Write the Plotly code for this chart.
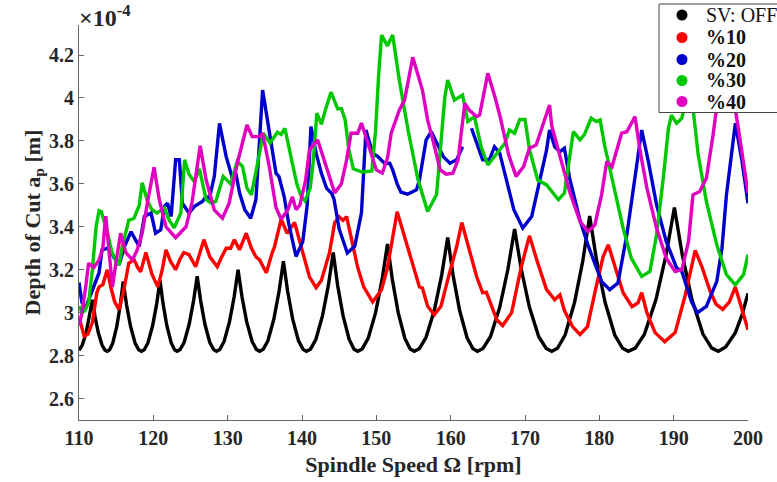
import plotly.graph_objects as go

# ---------------- data (depth of cut in units of 1e-4 m) ----------------
x_ticks = [110, 120, 130, 140, 150, 160, 170, 180, 190, 200]
y_ticks = [2.6, 2.8, 3.0, 3.2, 3.4, 3.6, 3.8, 4.0, 4.2]
y_tick_labels = ["2.6", "2.8", "3", "3.2", "3.4", "3.6", "3.8", "4", "4.2"]

series_names = ["SV: OFF", "%10", "%20", "%30", "%40"]

sv_off = [
    (110.0, 2.825), (110.44, 2.849), (110.96, 2.906), (111.42, 2.981), (111.8, 3.06),
    (112.16, 2.981), (112.6, 2.906), (113.1, 2.849), (113.5, 2.825), (113.8, 2.82),
    (114.12, 2.827), (114.55, 2.859), (115.09, 2.937), (115.56, 3.038), (115.95, 3.145),
    (116.39, 3.038), (116.93, 2.937), (117.54, 2.859), (118.03, 2.827), (118.4, 2.82),
    (118.78, 2.827), (119.28, 2.86), (119.9, 2.939), (120.45, 3.041), (120.9, 3.15),
    (121.31, 3.041), (121.82, 2.939), (122.4, 2.86), (122.86, 2.827), (123.2, 2.82),
    (123.6, 2.828), (124.15, 2.862), (124.82, 2.946), (125.41, 3.055), (125.9, 3.17),
    (126.37, 3.055), (126.94, 2.946), (127.59, 2.862), (128.11, 2.828), (128.5, 2.82),
    (128.94, 2.828), (129.52, 2.866), (130.24, 2.957), (130.88, 3.075), (131.4, 3.20),
    (131.92, 3.075), (132.56, 2.957), (133.29, 2.866), (133.87, 2.828), (134.3, 2.82),
    (134.78, 2.829), (135.42, 2.87), (136.22, 2.971), (136.92, 3.101), (137.5, 3.24),
    (138.06, 3.101), (138.74, 2.971), (139.52, 2.87), (140.14, 2.829), (140.6, 2.82),
    (141.14, 2.83), (141.86, 2.875), (142.76, 2.986), (143.55, 3.128), (144.2, 3.28),
    (144.79, 3.128), (145.52, 2.986), (146.35, 2.875), (147.0, 2.83), (147.5, 2.82),
    (148.1, 2.831), (148.9, 2.88), (149.9, 3.0), (150.78, 3.155), (151.5, 3.32),
    (152.15, 3.155), (152.94, 3.0), (153.84, 2.88), (154.56, 2.831), (155.1, 2.82),
    (155.78, 2.832), (156.68, 2.884), (157.8, 3.011), (158.79, 3.175), (159.6, 3.35),
    (160.32, 3.175), (161.2, 3.011), (162.2, 2.884), (163.0, 2.832), (163.6, 2.82),
    (164.35, 2.833), (165.35, 2.888), (166.6, 3.025), (167.7, 3.202), (168.6, 3.39),
    (169.5, 3.202), (170.6, 3.025), (171.85, 2.888), (172.85, 2.833), (173.6, 2.82),
    (174.37, 2.834), (175.39, 2.896), (176.66, 3.047), (177.78, 3.242), (178.7, 3.45),
    (179.64, 3.242), (180.78, 3.047), (182.08, 2.896), (183.12, 2.834), (183.9, 2.82),
    (184.83, 2.835), (186.07, 2.9), (187.62, 3.061), (188.98, 3.269), (190.1, 3.49),
    (191.16, 3.269), (192.46, 3.061), (193.94, 2.9), (195.12, 2.835), (196.0, 2.82),
    (197.0, 2.84), (198.3, 2.907), (199.2, 2.99), (200.0, 3.09),
]

sv_10 = [
    (110.0, 2.98), (110.7, 2.89), (111.2, 2.9), (111.8, 2.954), (112.4, 3.093), (112.7, 3.12),
    (113.2, 3.13), (113.8, 3.20), (114.3, 3.116), (114.8, 3.05), (115.4, 3.014), (116.0, 3.10),
    (116.7, 3.23), (117.4, 3.247), (117.9, 3.21), (118.3, 3.19), (119.0, 3.28), (119.8, 3.18),
    (120.6, 3.12), (121.2, 3.2), (121.7, 3.293), (122.3, 3.24), (123.0, 3.2), (123.6, 3.25),
    (124.1, 3.28), (124.8, 3.27), (125.7, 3.214), (126.8, 3.34), (127.6, 3.26), (128.6, 3.214),
    (129.2, 3.26), (129.8, 3.30), (130.4, 3.30), (130.9, 3.34), (131.6, 3.293), (132.5, 3.37),
    (133.2, 3.30), (133.8, 3.26), (134.3, 3.246), (135.2, 3.186), (136.0, 3.28), (136.3, 3.307),
    (137.2, 3.435), (138.0, 3.37), (139.0, 3.42), (139.9, 3.307), (141.0, 3.167), (141.9, 3.116),
    (142.6, 3.15), (143.7, 3.279), (144.4, 3.42), (145.0, 3.447), (145.5, 3.43), (146.0, 3.447),
    (146.6, 3.35), (147.5, 3.21), (148.3, 3.12), (149.5, 3.05), (150.7, 3.107), (151.5, 3.21),
    (152.8, 3.47), (154.2, 3.307), (155.1, 3.19), (155.8, 3.12), (156.2, 3.115), (156.9, 3.03),
    (157.8, 2.99), (158.7, 3.03), (159.6, 3.153), (160.8, 3.307), (161.5, 3.42), (162.4, 3.307),
    (163.5, 3.167), (164.3, 3.093), (164.8, 3.095), (165.2, 3.06), (166.2, 2.967), (167.0, 2.94),
    (168.2, 3.0), (169.5, 3.214), (170.6, 3.358), (171.7, 3.233), (172.9, 3.107), (174.0, 3.06),
    (174.7, 3.083), (175.3, 3.01), (176.4, 2.935), (177.4, 2.898), (178.4, 2.935), (179.4, 3.093),
    (180.5, 3.26), (181.2, 3.316), (182.1, 3.214), (183.2, 3.093), (184.4, 3.028), (185.2, 3.046),
    (185.7, 3.093), (186.4, 3.0), (187.5, 2.907), (188.8, 2.865), (190.2, 2.907), (191.5, 3.074),
    (192.9, 3.29), (193.8, 3.214), (194.9, 3.1), (195.7, 3.04), (196.6, 3.015), (197.5, 3.05),
    (198.3, 3.12), (199.2, 3.014), (200.0, 2.92),
]

sv_20 = [
    (110.0, 3.14), (110.4, 3.047), (110.9, 3.023), (111.8, 3.107), (112.7, 3.186), (113.1, 3.293),
    (113.8, 3.30), (114.2, 3.29), (114.7, 3.256), (115.4, 3.223), (116.1, 3.307), (117.0, 3.377),
    (117.6, 3.34), (118.1, 3.308), (118.8, 3.448), (119.7, 3.464), (120.3, 3.37), (121.0, 3.386),
    (121.5, 3.494), (121.9, 3.51), (122.4, 3.448), (123.0, 3.712), (123.5, 3.712), (123.9, 3.51),
    (124.8, 3.464), (125.5, 3.494), (126.6, 3.518), (127.1, 3.541), (127.5, 3.526), (128.2, 3.634),
    (128.9, 3.882), (129.8, 3.727), (130.7, 3.619), (131.1, 3.65), (131.6, 3.557), (132.3, 3.48),
    (133.1, 3.44), (133.8, 3.526), (134.7, 4.037), (135.6, 3.836), (136.5, 3.65), (136.9, 3.634),
    (137.6, 3.541), (138.2, 3.417), (139.2, 3.262), (140.1, 3.33), (140.7, 3.5), (141.2, 3.867),
    (141.9, 3.743), (142.6, 3.65), (143.3, 3.58), (144.0, 3.555), (144.3, 3.53), (145.0, 3.39),
    (146.1, 3.278), (147.1, 3.31), (148.0, 3.465), (148.6, 3.851), (149.5, 3.743), (150.2, 3.727),
    (151.1, 3.696), (151.8, 3.696), (152.2, 3.665), (152.8, 3.6), (153.3, 3.562), (154.2, 3.552),
    (155.4, 3.572), (155.8, 3.619), (156.7, 3.805), (157.4, 3.843), (158.1, 3.79), (159.0, 3.727),
    (159.9, 3.696), (160.8, 3.712), (161.6, 3.773),
    (None, None),
    (162.8, 3.859), (163.7, 3.773), (164.3, 3.712), (165.2, 3.712), (165.9, 3.773), (166.6, 3.743),
    (167.3, 3.65), (168.5, 3.48), (169.7, 3.394), (170.9, 3.448), (172.0, 3.619), (172.9, 3.758),
    (173.3, 3.851), (174.0, 3.773), (174.7, 3.75), (175.3, 3.766), (176.0, 3.627), (177.4, 3.43),
    (178.5, 3.312), (179.3, 3.235), (180.3, 3.146), (181.4, 3.107), (182.5, 3.138), (183.7, 3.363),
    (184.8, 3.626), (185.7, 3.851), (186.6, 3.704), (187.7, 3.502), (189.0, 3.332), (190.4, 3.208),
    (191.1, 3.192), (191.7, 3.13), (192.4, 3.05), (193.2, 3.0), (194.4, 3.029), (195.8, 3.146),
    (196.5, 3.3), (197.1, 3.549), (198.3, 3.882), (199.2, 3.704), (200.0, 3.51),
]

sv_30 = [
    (110.0, 3.03), (110.4, 3.0), (110.8, 3.01), (111.3, 3.047), (111.8, 3.2), (112.3, 3.4),
    (112.7, 3.475), (113.0, 3.47), (113.8, 3.377), (114.4, 3.284), (115.0, 3.24), (115.4, 3.223),
    (115.8, 3.307), (116.7, 3.43), (117.4, 3.44), (118.1, 3.5), (118.5, 3.605), (119.2, 3.52),
    (119.8, 3.48), (120.5, 3.464), (121.5, 3.488), (122.1, 3.433), (122.8, 3.395), (123.7, 3.464),
    (124.2, 3.712), (124.8, 3.645), (125.5, 3.611), (126.2, 3.67), (127.1, 3.526), (127.8, 3.51),
    (128.4, 3.518), (129.4, 3.634), (130.4, 3.6), (131.3, 3.705), (132.0, 3.68), (132.6, 3.58),
    (133.2, 3.549), (134.3, 3.743), (134.8, 3.836), (135.7, 3.79), (136.7, 3.84), (137.2, 3.83),
    (137.7, 3.859), (138.6, 3.712), (139.3, 3.6), (139.9, 3.541), (140.4, 3.52), (141.1, 3.58),
    (141.5, 3.7), (142.0, 3.929), (142.6, 3.878), (143.2, 3.95), (143.9, 4.027), (144.8, 3.95),
    (145.3, 3.95), (145.8, 3.9), (146.3, 3.76), (146.9, 3.67), (148.1, 3.655), (149.4, 3.66),
    (149.9, 3.85), (150.3, 4.1), (150.7, 4.293), (151.5, 4.243), (152.2, 4.293), (153.1, 4.08),
    (154.3, 3.845), (155.6, 3.62), (156.9, 3.471), (158.1, 3.55), (158.6, 3.75), (159.2, 4.0),
    (159.6, 4.084), (160.5, 3.99), (161.6, 4.014), (162.3, 3.89), (163.2, 3.913), (164.1, 3.773),
    (165.0, 3.688), (166.1, 3.735), (167.3, 3.789), (167.9, 3.851), (168.6, 3.836), (169.3, 3.9),
    (170.0, 3.9), (170.6, 3.76), (171.7, 3.619), (172.9, 3.595), (173.8, 3.557), (174.5, 3.526),
    (175.3, 3.557), (175.7, 3.66), (176.5, 3.843), (177.4, 3.805), (178.0, 3.83), (178.9, 3.906),
    (179.6, 3.89), (180.1, 3.898), (180.7, 3.781), (181.9, 3.595), (183.2, 3.394), (184.3, 3.254),
    (185.7, 3.169), (186.8, 3.192), (187.7, 3.363), (188.6, 3.626), (189.3, 3.859), (189.7, 3.92),
    (190.4, 3.882), (191.1, 3.906), (191.5, 3.967), (192.1, 4.04), (192.6, 3.952), (193.3, 3.735),
    (194.4, 3.518), (195.8, 3.316), (197.1, 3.177), (198.3, 3.13), (199.4, 3.177), (200.0, 3.27),
]

sv_40 = [
    (110.0, 2.94), (110.4, 3.0), (110.9, 3.12), (111.3, 3.23), (112.0, 3.21), (112.7, 3.246),
    (113.2, 3.3), (113.6, 3.45), (114.0, 3.3), (114.5, 3.12), (115.0, 3.24), (115.6, 3.37),
    (116.3, 3.28), (117.2, 3.246), (117.8, 3.29), (118.5, 3.37), (119.4, 3.55), (120.1, 3.677),
    (120.8, 3.526), (121.7, 3.4), (123.0, 3.349), (124.4, 3.4), (125.2, 3.512), (125.8, 3.65),
    (126.3, 3.777), (127.1, 3.619), (128.2, 3.479), (129.3, 3.44), (130.2, 3.51), (131.3, 3.696),
    (132.0, 3.8), (132.6, 3.874), (133.3, 3.82), (134.3, 3.82), (134.7, 3.836), (135.6, 3.68),
    (136.5, 3.49), (137.2, 3.435), (138.1, 3.48), (138.7, 3.54), (139.2, 3.48), (139.7, 3.5),
    (140.5, 3.62), (141.0, 3.758), (142.1, 3.805), (143.3, 3.68), (144.4, 3.557), (145.3, 3.6),
    (146.0, 3.712), (146.6, 3.836), (147.5, 3.836), (148.0, 3.883), (148.6, 3.82), (150.0, 3.665),
    (150.8, 3.65), (151.5, 3.72), (152.0, 3.836), (153.1, 3.944), (153.8, 3.99), (154.9, 4.19),
    (156.2, 4.037), (156.9, 3.898), (157.6, 3.805), (158.6, 3.665), (159.4, 3.645), (160.3, 3.65),
    (161.0, 3.712), (161.9, 3.975), (162.5, 3.944), (163.5, 3.913), (163.9, 3.921), (165.0, 4.115),
    (166.0, 4.0), (166.7, 3.906), (167.8, 3.735), (168.8, 3.635), (169.8, 3.68), (170.6, 3.766),
    (171.5, 3.781), (172.7, 3.913), (173.3, 3.967), (173.6, 3.87), (174.7, 3.735), (176.0, 3.564),
    (177.4, 3.425), (178.5, 3.378), (179.4, 3.409), (180.3, 3.549), (181.0, 3.704), (181.7, 3.68),
    (183.0, 3.836), (183.7, 3.843), (184.8, 3.913), (185.5, 3.75), (186.4, 3.58), (187.7, 3.394),
    (189.0, 3.254), (190.2, 3.192), (191.1, 3.2), (192.0, 3.332), (192.6, 3.549), (193.5, 3.564),
    (194.4, 3.626), (195.3, 3.828), (196.0, 4.014), (196.8, 4.2), (197.4, 4.08), (198.0, 4.014),
    (198.9, 3.813), (200.0, 3.557),
]

colors = ["#000000", "#ff0000", "#0000cc", "#00c800", "#e000c0"]
all_series = [sv_off, sv_10, sv_20, sv_30, sv_40]

SERIF = "Liberation Serif"
TXT = "#262626"

fig = go.Figure()

for name, pts, col in zip(series_names, all_series, colors):
    fig.add_trace(go.Scatter(
        x=[p[0] for p in pts], y=[p[1] for p in pts],
        mode="lines", line=dict(color=col, width=3.4),
        name=name, showlegend=False, connectgaps=False, hoverinfo="skip",
    ))

axis_common = dict(
    showline=True, linecolor="#666666", linewidth=1,
    ticks="inside", ticklen=5, tickcolor="#666666", tickwidth=1,
    showgrid=False, zeroline=False, mirror=False,
    tickfont=dict(family=SERIF, size=20, color=TXT, weight="bold"),
)

fig.update_xaxes(
    range=[110, 200], tickvals=x_ticks, ticktext=[str(v) for v in x_ticks],
    title=dict(text="<b>Spindle Speed Ω [rpm]</b>", standoff=8,
               font=dict(family=SERIF, size=22, color=TXT)),
    **axis_common,
)
fig.update_yaxes(
    range=[2.5, 4.34], tickvals=y_ticks, ticktext=y_tick_labels,
    title=dict(text="<b>Depth of Cut a<sub>p</sub> [m]</b>", standoff=2,
               font=dict(family=SERIF, size=22, color=TXT)),
    **axis_common,
)

# exponent label
fig.add_annotation(
    x=0, y=1, xref="paper", yref="paper", xanchor="left", yanchor="bottom",
    text="<b>×10<sup>-4</sup></b>", showarrow=False, xshift=-2, yshift=-8,
    font=dict(family=SERIF, size=24, color=TXT),
)

# ---------------- hand-built legend (box, dots, labels) ----------------
PLOT_L, PLOT_R, PLOT_T, PLOT_B = 79, 748, 25, 420
def px_x(px):
    return (px - PLOT_L) / (PLOT_R - PLOT_L)
def px_y(py):
    return (PLOT_B - py) / (PLOT_B - PLOT_T)

fig.add_shape(
    type="rect", xref="paper", yref="paper",
    x0=px_x(659), x1=px_x(800), y0=px_y(112.5), y1=px_y(4),
    fillcolor="white", line=dict(color="#444444", width=1), layer="above",
)
row_py = [15, 37.5, 59.5, 80.5, 101.5]
for name, col, py in zip(series_names, colors, row_py):
    fig.add_shape(
        type="circle", xref="paper", yref="paper",
        xsizemode="pixel", ysizemode="pixel",
        xanchor=px_x(682), yanchor=px_y(py),
        x0=-5.5, x1=5.5, y0=-5.5, y1=5.5,
        fillcolor=col, line=dict(color=col, width=0), layer="above",
    )
    label = name if name == "SV: OFF" else "<b>%s</b>" % name
    fig.add_annotation(
        x=px_x(704), y=px_y(py), xref="paper", yref="paper",
        xanchor="left", yanchor="middle", text=label, showarrow=False,
        font=dict(family=SERIF, size=20, color="#111111"),
    )

fig.update_layout(
    width=777, height=482,
    margin=dict(l=PLOT_L, r=777 - PLOT_R, t=PLOT_T, b=482 - PLOT_B, autoexpand=False),
    paper_bgcolor="white", plot_bgcolor="white",
    showlegend=False,
)

fig.write_html("out.html")
